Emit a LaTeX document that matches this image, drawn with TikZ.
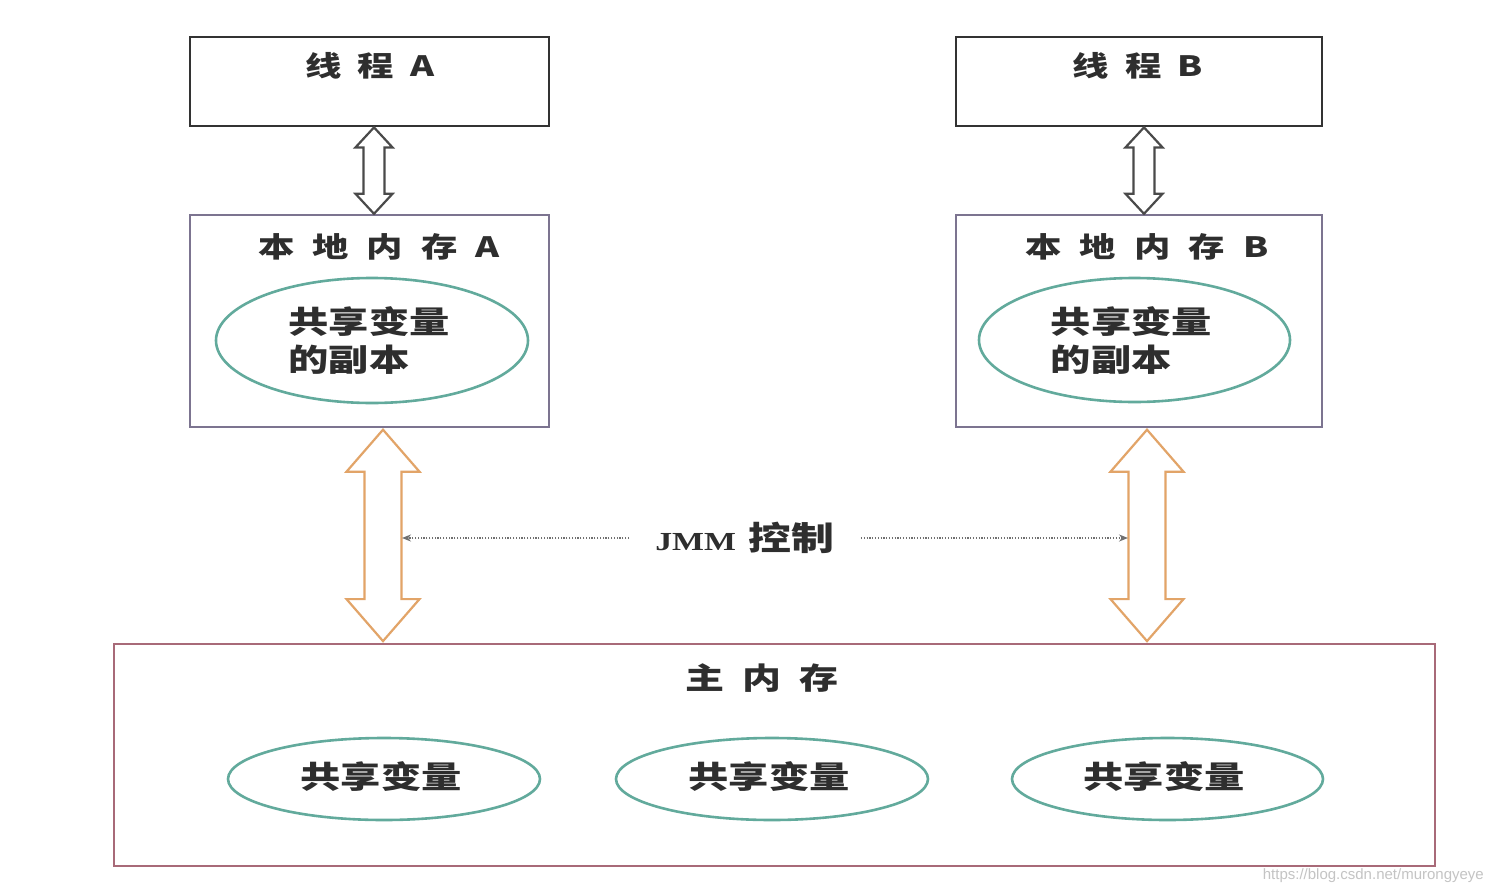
\documentclass[tikz,border=0pt]{standalone}
\usepackage{fontspec}
\usetikzlibrary{shapes.geometric,arrows.meta,calc}
\newfontfamily\cjk[FakeStretch=1.3]{Noto Sans CJK SC}
\newfontfamily\jmmfont[FakeStretch=1.3]{Liberation Serif}
\newfontfamily\wmfont{Liberation Sans}
\definecolor{txt}{HTML}{2E2E2E}
\definecolor{thrline}{HTML}{333333}
\definecolor{locline}{HTML}{7C7490}
\definecolor{mainline}{HTML}{A86A78}
\definecolor{ellline}{HTML}{62AA9C}
\definecolor{orangeline}{HTML}{E2A468}
\definecolor{grayarrow}{HTML}{4A4A4A}
\definecolor{dotline}{HTML}{707070}
\definecolor{wmgray}{HTML}{C4C4C4}
\newcommand{\gp}[1]{\hspace{#1pt}}
\newcommand{\dblarr}[6]{\draw[#6] (#1) -- ($(#1)+(#4,#5)$) -- ($(#1)+(#3,#5)$) -- ($(#2)+(#3,-#5)$) -- ($(#2)+(#4,-#5)$) -- (#2) -- ($(#2)+(-#4,-#5)$) -- ($(#2)+(-#3,-#5)$) -- ($(#1)+(-#3,#5)$) -- ($(#1)+(-#4,#5)$) -- cycle;}
\tikzset{
  thrbox/.style={draw=thrline, line width=2.8pt, minimum width=359pt, minimum height=89pt, inner sep=0pt},
  locbox/.style={draw=locline, line width=2.4pt, minimum width=359pt, minimum height=212pt, inner sep=0pt},
  mainbox/.style={draw=mainline, line width=2.8pt, minimum width=1321pt, minimum height=222pt, inner sep=0pt},
  ell/.style={ellipse, draw=ellline, line width=2.6pt, inner sep=0pt},
  lbl/.style={text=txt, font=\cjk\bfseries\fontsize{28}{32}\selectfont, inner sep=0pt},
  elltxt/.style={text=txt, font=\cjk\bfseries\fontsize{31}{38}\selectfont, align=left},
  hollow/.style={draw=grayarrow, line width=2.2pt, fill=white, line join=miter},
  orangearr/.style={draw=orangeline, line width=2.2pt, fill=white, line join=miter},
  dotarr/.style={draw=dotline, line width=1.6pt, dash pattern=on 1.2pt off 1.6pt, -{Stealth[length=9pt,width=7pt]}},
}
\begin{document}
\begin{tikzpicture}[x=1pt,y=-1pt]
\useasboundingbox[fill=white] (0,0) rectangle (1494,894);
% boxes
\node[thrbox] (thrA) at (369.5,81.5) {};
\node[thrbox, minimum width=366pt] (thrB) at (1139,81.5) {};
\node[locbox] (locA) at (369.5,321) {};
\node[locbox, minimum width=366pt] (locB) at (1139,321) {};
\node[mainbox] (mainM) at (774.5,755) {};
% labels
\node[lbl] (tA) at (370,66) {线\gp{16}程\gp{16}A};
\node[lbl] (tB) at (1138,66) {线\gp{16}程\gp{16}B};
\node[lbl] (lA) at (379,247) {本\gp{18}地\gp{18}内\gp{18}存\gp{18}A};
\node[lbl] (lB) at (1147,247) {本\gp{18}地\gp{18}内\gp{18}存\gp{18}B};
\node[lbl, font=\cjk\bfseries\fontsize{30}{34}\selectfont] (mL) at (762,678) {主\gp{18}内\gp{18}存};
% ellipses
\node[ell, minimum width=312pt, minimum height=125pt] (eA) at (372,340.5) {};
\node[elltxt] (eAt) at ($(eA)+(-3,0)$) {共享变量\\的副本};
\node[ell, minimum width=311pt, minimum height=124pt] (eB) at (1134.5,340) {};
\node[elltxt] (eBt) at ($(eB)+(-3,1)$) {共享变量\\的副本};
\node[ell, minimum width=312pt, minimum height=82pt] (m1) at (384,779) {};
\node[elltxt] (m1t) at (381,777) {共享变量};
\node[ell, minimum width=312pt, minimum height=82pt] (m2) at (772,779) {};
\node[elltxt] (m2t) at (769,777) {共享变量};
\node[ell, minimum width=311pt, minimum height=82pt] (m3) at (1167.5,779) {};
\node[elltxt] (m3t) at (1164,777) {共享变量};
% hollow gray arrows
\coordinate (gAt) at ($(thrA.south)+(4.5,0)$);
\coordinate (gAb) at ($(locA.north)+(4.5,0)$);
\coordinate (gBt) at ($(thrB.south)+(5,0)$);
\coordinate (gBb) at ($(locB.north)+(5,0)$);
\dblarr{gAt}{gAb}{10.5}{18.5}{20}{hollow}
\dblarr{gBt}{gBb}{10.5}{18.5}{20}{hollow}
% orange arrows
\coordinate (oAt) at ($(locA.south)+(13.5,1.5)$);
\coordinate (oAb) at ($(mainM.north -| oAt)+(0,-1.5)$);
\coordinate (oBt) at ($(locB.south)+(8,1.5)$);
\coordinate (oBb) at ($(mainM.north -| oBt)+(0,-1.5)$);
\dblarr{oAt}{oAb}{18.5}{36.5}{42}{orangearr}
\dblarr{oBt}{oBb}{18.5}{36.5}{42}{orangearr}
% JMM control
\node[text=txt, inner xsep=26pt, inner ysep=0pt] (jmm) at (745,538) {\jmmfont\bfseries\fontsize{26}{32}\selectfont JMM\hspace{13pt}{\cjk\bfseries\fontsize{33}{32}\selectfont 控制}};
\coordinate (jA) at ($(oAt)!(jmm.west)!(oAb)+(19,0)$);
\coordinate (jB) at ($(oBt)!(jmm.east)!(oBb)+(-19,0)$);
\draw[dotarr] (jmm.west) -- (jA);
\draw[dotarr] (jmm.east) -- (jB);
% watermark
\node[text=wmgray, font=\wmfont\fontsize{15}{17}\selectfont, anchor=east, inner sep=0pt] (wm) at (1484,876) {https://blog.csdn.net/murongyeye};
\end{tikzpicture}
\end{document}
